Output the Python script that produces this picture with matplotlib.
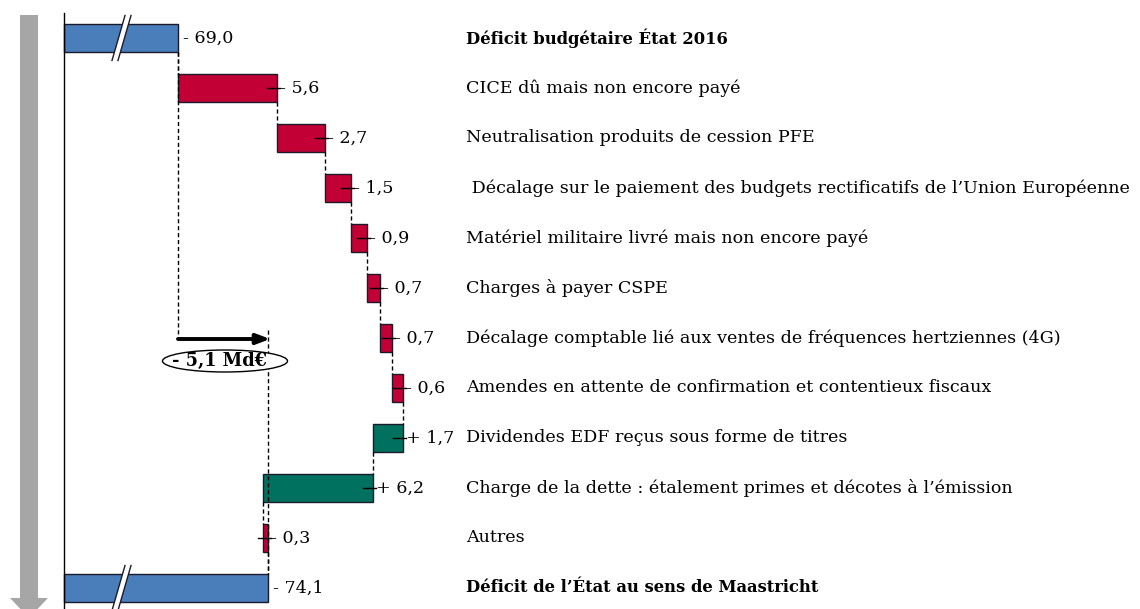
import matplotlib
matplotlib.use("Agg")
import matplotlib.pyplot as plt
from matplotlib.patches import Ellipse, Polygon

# data
labels = [
    "Déficit budgétaire État 2016",
    "CICE dû mais non encore payé",
    "Neutralisation produits de cession PFE",
    " Décalage sur le paiement des budgets rectificatifs de l\u2019Union Européenne",
    "Matériel militaire livré mais non encore payé",
    "Charges à payer CSPE",
    "Décalage comptable lié aux ventes de fréquences hertziennes (4G)",
    "Amendes en attente de confirmation et contentieux fiscaux",
    "Dividendes EDF reçus sous forme de titres",
    "Charge de la dette : étalement primes et décotes à l\u2019émission",
    "Autres",
    "Déficit de l\u2019État au sens de Maastricht",
]
start_deficit = 69.0
changes = [-5.6, -2.7, -1.5, -0.9, -0.7, -0.7, -0.6, 1.7, 6.2, -0.3]
end_deficit = 74.1

def fmt(v, sign):
    return f"{sign} {abs(v):.1f}".replace(".", ",")

# pixel layout helpers (figure is 1140x609 px)
PPU = 17.7              # px per Md€
X0 = start_deficit - 178 / PPU
Y0 = -0.76
def px(x):
    return X0 + x / PPU
def py(y):
    return Y0 + y / 50.0

BLUE = "#4a7ebb"
RED = "#c20036"
GREEN = "#00705f"
EDGE = "#1a1a2a"
serif = ["DejaVu Serif"]
FS = 12.6
FSB = 11.8

fig = plt.figure(figsize=(11.4, 6.09), dpi=100)
ax = fig.add_axes([0, 0, 1, 1])
ax.set_xlim(X0, X0 + 1140 / PPU)
ax.set_ylim(py(609), py(0))
ax.axis("off")

base = px(64)
h = 0.56

# totals
for row, val in [(0, start_deficit), (11, end_deficit)]:
    ax.barh(row, val - base, left=base, height=h, color=BLUE,
            edgecolor=EDGE, linewidth=1, zorder=2)
    ax.text(val + 5 / PPU, row, fmt(val, "-"), fontsize=FS, family=serif,
            va="center", ha="left")

# steps
cur = start_deficit
for i, c in enumerate(changes):
    row = i + 1
    new = cur - c
    left = min(cur, new)
    right = max(cur, new)
    col = RED if c < 0 else GREEN
    ax.barh(row, right - left, left=left, height=h, color=col,
            edgecolor=EDGE, linewidth=1, zorder=2)
    ax.plot([right - 10 / PPU, right + 3 / PPU], [row, row], color="black",
            lw=1, zorder=3)
    ax.text(right + 3 / PPU, row, fmt(c, "-" if c < 0 else "+"),
            fontsize=FS, family=serif, va="center", ha="left")
    # connector from previous bar
    ax.plot([cur, cur], [row - 1 + h / 2, row - h / 2], color="black",
            lw=1, ls=(0, (3, 2)), zorder=3)
    cur = new
ax.plot([cur, cur], [10 + h / 2, 11 - h / 2], color="black", lw=1,
        ls=(0, (3, 2)), zorder=3)

# category labels
for row, lab in enumerate(labels):
    bold = row in (0, 11)
    ax.text(466 / 1140, row, lab, transform=ax.get_yaxis_transform(),
            fontsize=FSB if bold else FS, family=serif, va="center",
            ha="left", fontweight="bold" if bold else "normal")

# axis breaks
for row in (0, 11):
    yb, yt = row + 0.45, row - 0.45
    ax.add_patch(Polygon([(px(112), yb), (px(125), yt), (px(131), yt),
                          (px(118), yb)], closed=True, facecolor="white",
                         edgecolor="none", zorder=4))
    ax.plot([px(112), px(125)], [yb, yt], color=EDGE, lw=1, zorder=5)
    ax.plot([px(118), px(131)], [yb, yt], color=EDGE, lw=1, zorder=5)

# left axis line
ax.plot([base, base], [py(13), py(609)], color="black", lw=1, zorder=3)

# grey arrow on the left
ax.add_patch(Polygon([(px(20), py(15)), (px(38), py(15)), (px(38), py(598)),
                      (px(48), py(598)), (px(29), py(618)), (px(10), py(598)),
                      (px(20), py(598))], closed=True, facecolor="#a6a6a6",
                     edgecolor="none", clip_on=False))

# total variation annotation
arr_y = py(339)
ax.plot([start_deficit, start_deficit], [0 + h / 2, arr_y], color="black",
        lw=1, ls=(0, (3, 2)), zorder=3)
ax.plot([end_deficit, end_deficit], [py(330), 11 - h / 2], color="black",
        lw=1, ls=(0, (3, 2)), zorder=3)
ax.annotate("", xy=(end_deficit + 2 / PPU, arr_y), xytext=(start_deficit, arr_y),
            arrowprops=dict(arrowstyle="-|>,head_length=0.8,head_width=0.3",
                            lw=2.8, color="black", shrinkA=0, shrinkB=0))
ax.add_patch(Ellipse((px(225), py(361)), 125 / PPU, 22 / 50, facecolor="white",
                     edgecolor="black", lw=1, zorder=4))
ax.text(px(219), py(361), fmt(end_deficit - start_deficit, "-") + " Md€",
        fontsize=12.8, family=serif, fontweight="bold", ha="center",
        va="center", zorder=5)

fig.savefig("out.png", dpi=100)
